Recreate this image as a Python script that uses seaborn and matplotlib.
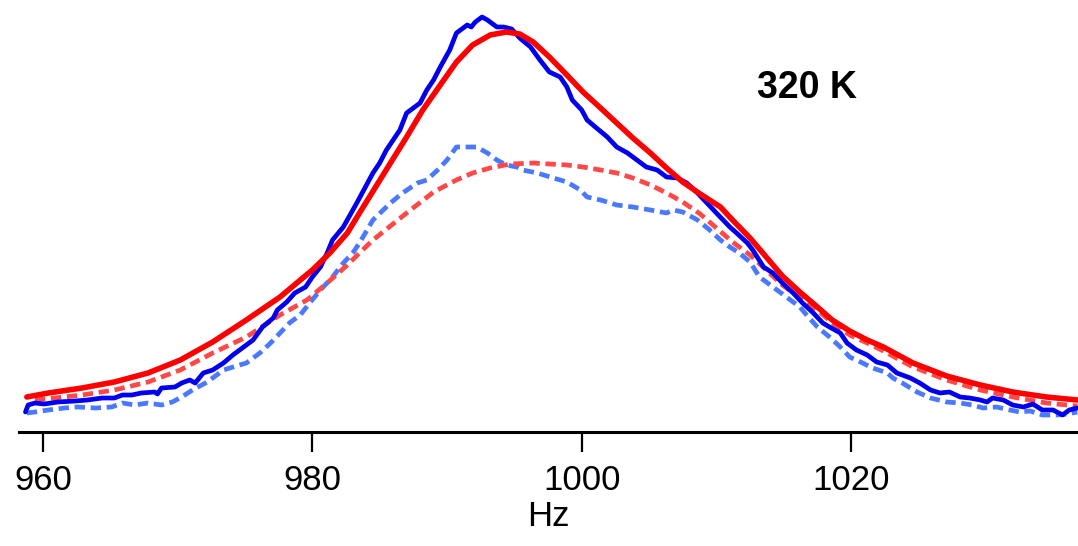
import numpy as np
import pandas as pd
import matplotlib
matplotlib.use("Agg")
import matplotlib.pyplot as plt
import seaborn as sns

# measured spectrum (solid blue), Hz / arbitrary intensity
meas_hz = [958.7, 958.9, 959.4, 960.1, 961.1, 962.4, 963.3, 964.4, 965.3, 965.9,
           966.6, 967.3, 968.3, 968.5, 968.8, 969.8, 970.3, 970.9, 971.3, 971.9,
           972.6, 973.4, 974.1, 974.8, 975.6, 976.3, 977.1, 977.4, 978.1, 978.7,
           979.5, 980.0, 980.6, 981.1, 981.5, 982.3, 982.8, 983.3, 984.1, 984.5,
           985.0, 985.5, 986.0, 986.5, 987.0, 987.5, 988.0, 988.5, 989.0, 989.5,
           990.2, 990.7, 991.5, 991.8, 992.1, 992.6, 993.0, 993.7, 994.2, 994.8,
           995.4, 996.2, 996.9, 997.6, 998.4, 998.9, 999.3, 1000.0, 1000.4, 1001.1,
           1001.9, 1002.6, 1003.4, 1004.1, 1004.8, 1005.6, 1006.3, 1007.1, 1007.8, 1008.6,
           1009.3, 1010.0, 1011.0, 1011.5, 1012.3, 1012.7, 1013.5, 1014.2, 1014.9, 1015.7,
           1016.4, 1017.2, 1017.9, 1018.4, 1019.2, 1019.7, 1020.4, 1021.2, 1021.9, 1022.7,
           1023.4, 1024.4, 1025.1, 1025.9, 1026.6, 1027.3, 1028.1, 1028.8, 1029.6, 1030.1,
           1030.5, 1031.3, 1032.0, 1032.8, 1033.5, 1034.2, 1035.0, 1035.7, 1036.2, 1036.8]
meas_int = [20, 27, 29, 28, 30, 31, 32, 34, 34, 37,
            37, 39, 40, 38, 44, 45, 49, 52, 49, 59,
            62, 69, 77, 84, 92, 105, 114, 122, 130, 139,
            145, 155, 165, 179, 192, 205, 217, 229, 249, 259,
            269, 282, 292, 302, 319, 324, 329, 342, 352, 365,
            382, 399, 407, 405, 410, 415, 412, 405, 405, 403,
            394, 385, 372, 360, 355, 345, 332, 322, 312, 304,
            295, 285, 279, 272, 265, 262, 255, 254, 249, 239,
            229, 219, 205, 199, 189, 182, 165, 159, 149, 139,
            129, 119, 109, 105, 99, 89, 82, 77, 70, 67,
            59, 54, 49, 42, 39, 40, 35, 34, 32, 30,
            34, 32, 27, 25, 28, 22, 22, 17, 22, 24]

# second measured spectrum (dashed light blue)
meas2_hz = [958.8, 959.4, 960.4, 961.6, 962.6, 963.9, 965.1, 965.9, 966.8, 967.8,
            968.8, 969.6, 970.3, 971.1, 972.2, 973.4, 974.6, 975.1, 976.1, 976.9,
            977.6, 978.3, 979.1, 979.8, 980.6, 981.5, 982.3, 983.0, 983.5, 984.5,
            985.8, 986.7, 987.8, 988.5, 989.3, 990.0, 990.7, 991.5, 992.2, 993.0,
            993.7, 994.4, 995.2, 995.6, 996.7, 997.9, 998.9, 999.9, 1000.4, 1001.4,
            1002.6, 1003.8, 1005.1, 1006.3, 1006.8, 1007.5, 1008.6, 1009.5, 1010.3, 1011.0,
            1011.7, 1012.5, 1013.2, 1014.2, 1015.2, 1016.2, 1016.7, 1017.5, 1018.4, 1019.2,
            1019.9, 1020.7, 1021.6, 1022.7, 1023.1, 1023.8, 1024.9, 1025.9, 1027.1, 1028.1,
            1029.0, 1029.8, 1030.8, 1031.8, 1032.5, 1033.3, 1034.2, 1035.3, 1036.0, 1036.8]
meas2_int = [19, 20, 22, 24, 25, 24, 25, 29, 27, 29,
             27, 30, 35, 42, 50, 62, 67, 69, 79, 89,
             99, 109, 117, 129, 142, 155, 169, 179, 189, 212,
             229, 239, 249, 252, 262, 272, 285, 285, 285, 279,
             272, 267, 265, 262, 259, 254, 250, 242, 235, 232,
             227, 225, 222, 219, 222, 220, 212, 202, 192, 185,
             179, 170, 155, 145, 135, 125, 117, 105, 95, 85,
             75, 70, 64, 59, 54, 49, 40, 34, 30, 29,
             27, 24, 25, 22, 20, 21, 17, 17, 18, 20]

# fitted curves (red)
fit_hz = [958.8, 960.4, 962.9, 965.3, 967.8, 970.2, 972.6, 975.1, 977.6, 980.0,
          981.3, 982.6, 983.5, 984.1, 985.8, 987.0, 988.2, 989.5, 990.7, 991.9,
          993.2, 994.4, 995.4, 996.4, 997.6, 998.9, 1000.1, 1001.4, 1002.6, 1003.8,
          1005.1, 1006.3, 1007.5, 1008.8, 1010.3, 1011.2, 1012.5, 1013.7, 1014.9, 1016.2,
          1017.5, 1018.6, 1019.9, 1021.2, 1022.4, 1024.6, 1027.1, 1029.6, 1032.0, 1034.5,
          1036.8]
fit_int = [35, 39, 44, 50, 59, 72, 90, 112, 135, 162,
           179, 199, 219, 232, 269, 295, 322, 347, 370, 387,
           397, 400, 398, 390, 375, 357, 340, 324, 309, 294,
           279, 264, 250, 238, 225, 212, 194, 175, 156, 140,
           125, 112, 101, 92, 85, 69, 56, 47, 40, 35,
           32]

fit2_hz = [959.4, 960.9, 962.9, 965.3, 967.8, 970.2, 972.6, 975.1, 977.6, 979.6,
           981.1, 982.6, 983.5, 984.5, 987.0, 989.0, 990.7, 991.9, 993.2, 994.7,
           996.4, 997.6, 998.9, 1000.1, 1001.4, 1002.6, 1003.8, 1005.1, 1006.3, 1007.5,
           1008.8, 1010.0, 1011.2, 1012.5, 1013.7, 1014.9, 1016.2, 1017.5, 1018.6, 1019.9,
           1021.2, 1022.4, 1024.6, 1027.1, 1029.6, 1032.0, 1034.5, 1036.8]
fit2_int = [32, 34, 37, 42, 50, 62, 79, 95, 117, 132,
            149, 167, 179, 192, 219, 240, 252, 259, 264, 268,
            269, 268, 267, 265, 262, 259, 254, 247, 239, 230,
            218, 204, 190, 177, 162, 147, 134, 122, 109, 97,
            89, 81, 65, 52, 42, 35, 29, 26]

tick_hz = [960, 980, 1000, 1020]

sns.set_theme(style="white")
plt.rcParams['font.family'] = ['Liberation Sans', 'DejaVu Sans']
plt.rcParams['text.color'] = 'black'
plt.rcParams['axes.labelcolor'] = 'black'
plt.rcParams['xtick.color'] = 'black'
plt.rcParams['lines.solid_capstyle'] = 'round'
plt.rcParams['lines.solid_joinstyle'] = 'round'

fig = plt.figure(figsize=(10.78, 5.46), dpi=100)
ax = fig.add_axes([19 / 1078, 114 / 546, 1059 / 1078, 432 / 546])

series = [
    (meas2_hz, meas2_int, '#4a78ff', 3.4, (0, (2.2, 1.2))),
    (fit2_hz, fit2_int, '#ff4848', 3.4, (0, (2.2, 1.2))),
    (meas_hz, meas_int, '#0000ee', 3.4, '-'),
    (fit_hz, fit_int, '#ff0000', 4.0, '-'),
]
for xs, ys, col, lw, ls in series:
    sns.lineplot(x=xs, y=ys, ax=ax, sort=False, color=col)
    line = ax.lines[-1]
    line.set_linewidth(lw)
    line.set_linestyle(ls)

ax.set_xlim(958.22, 1036.85)
ax.set_ylim(0, 432)
ax.set_xticks(tick_hz)
ax.set_xticklabels([str(t) for t in tick_hz])
ax.set_yticks([])
sns.despine(ax=ax, left=True, top=True, right=True)
ax.spines['bottom'].set_linewidth(2.2)
ax.spines['bottom'].set_color('black')
ax.tick_params(axis='x', direction='out', length=14.4, width=1.6,
               color='black', labelcolor='black', labelsize=25, pad=9,
               bottom=True)
ax.set_xlabel('Hz', fontsize=25, labelpad=2, color='black')
ax.text(1013.0, 334, '320 K', fontsize=27, fontweight='bold', color='black',
        ha='left', va='baseline')

fig.savefig('out.png', dpi=100)
